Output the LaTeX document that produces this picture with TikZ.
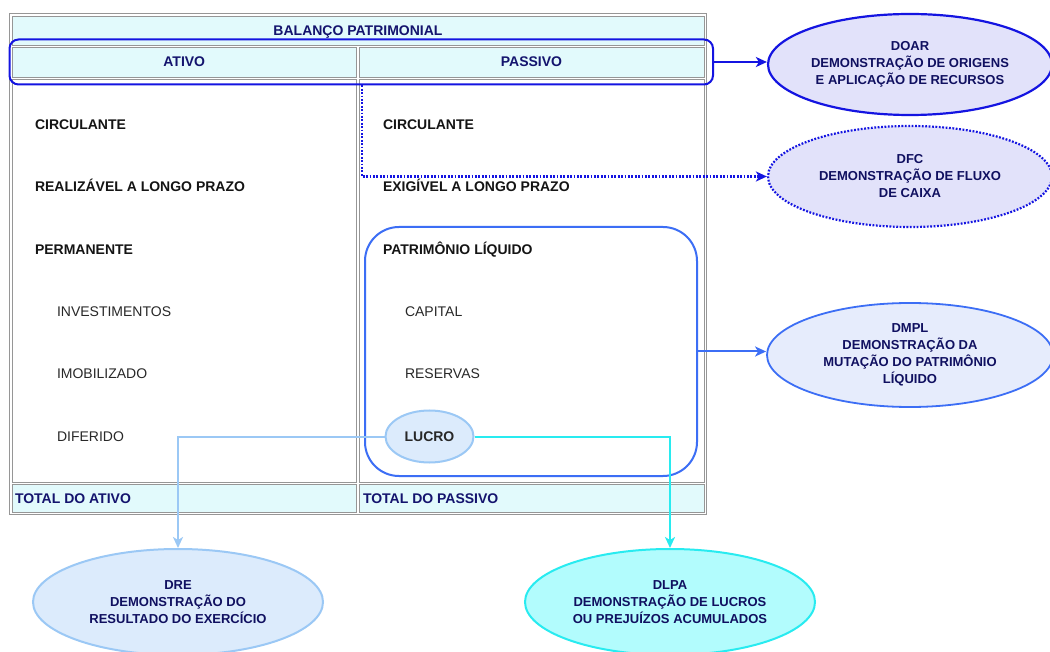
\documentclass[tikz,border=0pt]{standalone}
\usepackage{fontspec}
\setmainfont{Liberation Sans}
\usetikzlibrary{arrows.meta,shapes.geometric}

\definecolor{navy}{RGB}{20,20,110}
\definecolor{hdrfill}{RGB}{226,250,252}
\definecolor{cellline}{RGB}{150,150,150}
\definecolor{doarblue}{RGB}{20,20,225}
\definecolor{lavender}{RGB}{226,226,250}
\definecolor{plblue}{RGB}{60,110,245}
\definecolor{dmplfill}{RGB}{230,236,252}
\definecolor{lucrofill}{RGB}{220,235,252}
\definecolor{lightline}{RGB}{155,200,245}
\definecolor{cyanline}{RGB}{40,235,240}
\definecolor{dlpafill}{RGB}{178,252,253}
\definecolor{elltext}{RGB}{16,16,96}
\definecolor{bodytext}{RGB}{20,20,20}
\definecolor{subtext}{RGB}{40,40,40}

\tikzset{
  cell/.style={draw=cellline, line width=0.8pt, inner sep=0pt, outer sep=0pt},
  hdrcell/.style={cell, fill=hdrfill},
  txt/.style={inner sep=0pt, outer sep=0pt, text height=10pt, text depth=0pt,
              font=\fontsize{14}{17}\selectfont},
  hdrtext/.style={txt, text=navy, font=\fontsize{14}{17}\selectfont\bfseries},
  boldtext/.style={txt, anchor=west, text=bodytext, font=\fontsize{14}{17}\selectfont\bfseries},
  subitem/.style={txt, anchor=west, text=subtext},
  report/.style={ellipse, inner sep=0pt, align=center, text=elltext,
                 font=\fontsize{13}{17}\selectfont\bfseries},
  dotline/.style={line width=2.2pt, dash pattern=on 1.8pt off 1.6pt},
  arr/.style={-{Stealth[length=11pt,width=10pt,inset=3pt]}},
}

\begin{document}
\begin{tikzpicture}[x=1pt,y=-1pt]
\useasboundingbox[fill=white] (0,0) rectangle (1050,652);

% balance sheet table
\node[draw=cellline, line width=1pt, minimum width=697, minimum height=500, inner sep=0pt] (frame) at (358,264) {};
\node[hdrcell, minimum width=692, minimum height=29] (cTitle) at (358,30.5) {};
\node[hdrcell, minimum width=344.5, minimum height=30] (cAtivo) at (184.25,62) {};
\node[hdrcell, minimum width=345, minimum height=30] (cPassivo) at (531.5,62) {};
\node[cell, minimum width=344.5, minimum height=403] (cBodyA) at (184.25,280.5) {};
\node[cell, minimum width=345, minimum height=403] (cBodyP) at (531.5,280.5) {};
\node[hdrcell, minimum width=344.5, minimum height=28] (cTotA) at (184.25,498) {};
\node[hdrcell, minimum width=345, minimum height=28] (cTotP) at (531.5,498) {};

\node[hdrtext] (tTitle) at (cTitle) {BALANÇO PATRIMONIAL};
\node[hdrtext] (tAtivo) at (cAtivo) {ATIVO};
\node[hdrtext] (tPassivo) at (cPassivo) {PASSIVO};
\node[hdrtext, anchor=west] (tTotA) at (15,498) {TOTAL DO ATIVO};
\node[hdrtext, anchor=west] (tTotP) at (363,498) {TOTAL DO PASSIVO};

% assets column
\node[boldtext] (aCirc) at (35,125) {CIRCULANTE};
\node[boldtext] (aRlp) at (35,187) {REALIZÁVEL A LONGO PRAZO};
\node[boldtext] (aPerm) at (35,249.5) {PERMANENTE};
\node[subitem] (aInv) at (57,311.5) {INVESTIMENTOS};
\node[subitem] (aImob) at (57,373.5) {IMOBILIZADO};
\node[subitem] (aDif) at (57,436) {DIFERIDO};

% liabilities column
\node[boldtext] (pCirc) at (383,125) {CIRCULANTE};
\node[boldtext] (pElp) at (383,187) {EXIGÍVEL A LONGO PRAZO};
\node[boldtext] (pPl) at (383,249.5) {PATRIMÔNIO LÍQUIDO};
\node[subitem] (pCap) at (405,311.5) {CAPITAL};
\node[subitem] (pRes) at (405,373.5) {RESERVAS};

% highlight frames
\node[draw=doarblue, line width=2pt, rounded corners=9pt, minimum width=703.5, minimum height=45, inner sep=0pt] (hdrbox) at (361.25,62) {};
\node[draw=plblue, line width=2pt, rounded corners=34pt, minimum width=332, minimum height=249, inner sep=0pt] (plbox) at (531,351.5) {};
\node[ellipse, draw=lightline, line width=2pt, fill=lucrofill, minimum width=88, minimum height=52, inner sep=0pt,
      text=subtext, font=\fontsize{14}{17}\selectfont\bfseries, text height=10pt, text depth=0pt] (lucro) at (429.5,436.5) {LUCRO};

% financial statements
\node[report, draw=doarblue, line width=2.2pt, fill=lavender, minimum width=284, minimum height=101] (doar) at (910,64.5)
  {DOAR\\DEMONSTRAÇÃO DE ORIGENS\\E APLICAÇÃO DE RECURSOS};
\node[report, draw=doarblue, dotline, fill=lavender, minimum width=284, minimum height=101] (dfc) at (910,176.5)
  {DFC\\DEMONSTRAÇÃO DE FLUXO\\DE CAIXA};
\node[report, draw=plblue, line width=1.8pt, fill=dmplfill, minimum width=286, minimum height=104] (dmpl) at (910,355)
  {DMPL\\DEMONSTRAÇÃO DA\\MUTAÇÃO DO PATRIMÔNIO\\LÍQUIDO};
\node[report, draw=lightline, line width=2pt, fill=lucrofill, minimum width=290, minimum height=106] (dre) at (178,602)
  {DRE\\DEMONSTRAÇÃO DO\\RESULTADO DO EXERCÍCIO};
\node[report, draw=cyanline, line width=2pt, fill=dlpafill, minimum width=290, minimum height=106] (dlpa) at (670,602)
  {DLPA\\DEMONSTRAÇÃO DE LUCROS\\OU PREJUÍZOS ACUMULADOS};

% connectors
\coordinate (dfcx) at (362,0);
\draw[doarblue, line width=2pt, arr] (hdrbox.east) -- (hdrbox.east -| doar.west);
\draw[doarblue, dotline, arr] (hdrbox.south -| dfcx) |- (dfc.west);
\draw[plblue, line width=2pt, arr] (plbox.east) -- (plbox.east -| dmpl.west);
\draw[lightline, line width=2pt, arr] (lucro.west) -| (dre.north);
\draw[cyanline, line width=2pt, arr] (lucro.east) -| (dlpa.north);
\end{tikzpicture}
\end{document}
